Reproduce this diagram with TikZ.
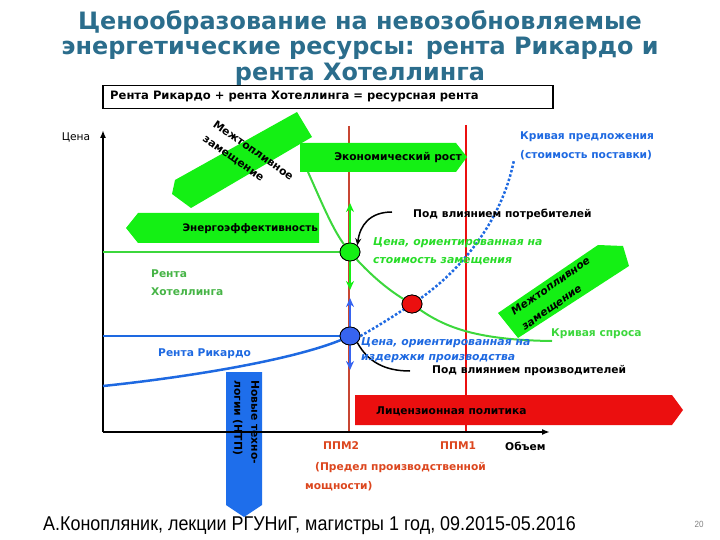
\documentclass[tikz,border=0pt]{standalone}
\usepackage{fontspec}
\setmainfont{DejaVu Sans}
\newfontfamily\narrowfont[FakeStretch=0.9]{Liberation Sans}
\usetikzlibrary{arrows.meta,calc,shapes.geometric}
\definecolor{titleblue}{RGB}{43,109,140}
\definecolor{lime}{RGB}{20,240,20}
\definecolor{curvegreen}{RGB}{60,215,60}
\definecolor{textgreen}{RGB}{70,180,70}
\definecolor{brightgreen}{RGB}{40,220,40}
\definecolor{myblue}{RGB}{30,105,225}
\definecolor{boxblue}{RGB}{30,110,235}
\definecolor{circblue}{RGB}{55,100,240}
\definecolor{myred}{RGB}{235,15,15}
\definecolor{brownred}{RGB}{200,70,50}
\definecolor{labelred}{RGB}{220,70,30}
\begin{document}
\begin{tikzpicture}[x=1bp,y=-1bp,
  lab/.style={inner sep=0,anchor=west,font=\bfseries\fontsize{10.7}{12}\selectfont},
  itl/.style={inner sep=0,anchor=west,font=\bfseries\itshape\fontsize{10.9}{12}\selectfont},
  boxtext/.style={inner sep=0,font=\bfseries\fontsize{10.7}{12}\selectfont},
  garrow/.style={draw=lime,line width=2.5bp,-{Stealth[length=9bp,width=8bp]}},
  barrow/.style={draw=circblue,line width=2.5bp,-{Stealth[length=9bp,width=8bp]}},
  dot/.style={ellipse,draw=black,line width=0.8bp,minimum width=20bp,minimum height=18bp,inner sep=0}]
\useasboundingbox (0,0) rectangle (720,540);
% title
\node[font=\bfseries\fontsize{24}{26}\selectfont,text=titleblue,align=center] (title) at (360,48)
  {Ценообразование на невозобновляемые\\энергетические ресурсы: рента Рикардо и\\рента Хотеллинга};
% formula box
\node[draw=black,line width=1.5bp,minimum width=450bp,minimum height=23bp,anchor=north west,inner sep=0] (formula) at (102,85) {};
\node[lab,font=\bfseries\fontsize{11.6}{13}\selectfont] (formulatext) at (110,97) {Рента Рикардо + рента Хотеллинга = ресурсная рента};

% green shape upper-left (interfuel substitution)
\fill[lime] (297,112) -- (312,137) -- (191,208) -- (172,194) -- (175,180) -- cycle;
\node[boxtext,font=\bfseries\fontsize{10.9}{18}\selectfont,rotate=-35,align=left] (ifs1) at (248,158) {Межтопливное\\замещение};

% red license arrow
\fill[myred] (355,395) -- (672,395) -- (683,410) -- (672,425) -- (355,425) -- cycle;
\node[lab] (lic) at (376,411) {Лицензионная политика};

% vertical lines
\coordinate (p2top) at (349,126);
\coordinate (p2bot) at (349,432);
\coordinate (p1top) at (466,125);
\coordinate (p1bot) at (466,432);
\draw[brownred,line width=2.5bp] (p2top) -- (p2bot);
\draw[myred,line width=2.5bp] (p1top) -- (p1bot);

% economic growth arrow box
\fill[lime] (300,143) -- (456,143) -- (467,157) -- (456,172) -- (300,172) -- cycle;
\node[boxtext] (growth) at (398,158) {Экономический рост};

% energy efficiency arrow box
\fill[lime] (138,213) -- (319,213) -- (319,243) -- (138,243) -- (126,228) -- cycle;
\node[boxtext,font=\bfseries\fontsize{10.4}{12}\selectfont,anchor=east] (eff) at (318,229) {Энергоэффективность};

% right green shape
\fill[lime] (598,245) -- (623,246) -- (629,266) -- (518,338) -- (498,313) -- cycle;
\node[boxtext,font=\bfseries\itshape\fontsize{10.7}{18}\selectfont,rotate=35,align=left] (ifs2) at (556,294) {Межтопливное\\замещение};

% blue NTP arrow
\fill[boxblue] (226,372) -- (262,372) -- (262,505) -- (244,517) -- (226,505) -- cycle;
\node[boxtext,font=\bfseries\fontsize{10.8}{17}\selectfont,rotate=-90,align=left,anchor=west] (ntp) at (246,380) {Новые техно-\\логии (НТП)};

% axes
\coordinate (orig) at (103,432);
\coordinate (ytop) at (103,130);
\coordinate (xend) at (550,432);
\draw[line width=2.5bp,-{Latex[length=8bp,width=6bp]}] (orig) -- (ytop);
\draw[line width=2.5bp,-{Latex[length=8bp,width=6bp]}] (orig) -- (xend);
\node[font=\fontsize{10.7}{12}\selectfont,inner sep=0] (price) at (76,137) {Цена};
\node[lab] (vol) at (505,446) {Объем};

% nodes (points)
\node[dot,fill=lime] (gdot) at (350,252) {};
\node[dot,fill=circblue] (bdot) at (350,336) {};
\node[dot,fill=myred] (rdot) at (412,304) {};

% horizontal levels
\coordinate (gl) at (103,252);
\coordinate (bl) at (103,336);
\draw[curvegreen,line width=2.5bp] (gl) -- (gdot.west);
\draw[myblue,line width=2bp] (bl) -- (bdot.west);

% demand curve
\coordinate (dstart) at (308,172);
\coordinate (dend) at (552,341);
\draw[curvegreen,line width=2bp] (dstart) .. controls (325,210) and (335,235) .. (gdot.center)
   .. controls (370,275) and (390,292) .. (rdot.center)
   .. controls (440,325) and (470,340) .. (dend);

% supply curve
\coordinate (sstart) at (103,386);
\coordinate (send) at (514,160);
\draw[myblue,line width=2.5bp] (sstart) .. controls (180,378) and (300,360) .. (bdot.center);
\draw[myblue,line width=2.5bp,dotted] (bdot.east) .. controls (380,325) and (400,312) .. (rdot.center)
   .. controls (450,280) and (500,230) .. (send);

% vertical arrows
\coordinate (gup) at (350,203);
\coordinate (gdown) at (350,290);
\coordinate (bup) at (350,298);
\coordinate (bdown) at (350,370);
\draw[garrow] (gdot.north) -- (gup);
\draw[garrow] (gdot.south) -- (gdown);
\draw[barrow] (bdot.north) -- (bup);
\draw[barrow] (bdot.south) -- (bdown);
% redraw dots on top
\node[dot,fill=lime] at (350,252) {};
\node[dot,fill=circblue] at (350,336) {};
\node[dot,fill=myred] at (412,304) {};

% influence labels and curves
\node[lab] (cons) at (413,214) {Под влиянием потребителей};
\coordinate (consend) at (392,212);
\draw[line width=1.5bp,-{Stealth[length=7bp,width=6bp]}] (consend) .. controls (370,212) and (360,225) .. (gdot.north east);
\node[lab] (prod) at (432,371) {Под влиянием производителей};
\coordinate (prodend) at (410,371);
\draw[line width=1.5bp] (bdot.south east) .. controls (368,362) and (385,371) .. (prodend);

% price labels
\node[itl,text=brightgreen] (gp1) at (373,243) {Цена, ориентированная на};
\node[itl,text=brightgreen] (gp2) at (373,261) {стоимость замещения};
\node[itl,text=myblue] (bp1) at (361,343) {Цена, ориентированная на};
\node[itl,text=myblue] (bp2) at (361,359) {издержки производства};

% rent labels
\node[lab,text=textgreen] (hot1) at (151,274) {Рента};
\node[lab,text=textgreen] (hot2) at (151,292) {Хотеллинга};
\node[lab,text=myblue] (ric) at (158,354) {Рента Рикардо};

% curve labels
\node[lab,text=myblue] (sup1) at (520,137) {Кривая предложения};
\node[lab,text=myblue] (sup2) at (520,155) {(стоимость поставки)};
\node[lab,text=curvegreen] (dem) at (551,334) {Кривая спроса};

% capacity labels
\node[lab,text=labelred] (ppm2) at (323,446) {ППМ2};
\node[lab,text=labelred] (ppm1) at (440,446) {ППМ1};
\node[lab,text=labelred] (lim1) at (315,468) {(Предел производственной};
\node[lab,text=labelred] (lim2) at (305,486) {мощности)};

% footer
\node[font=\narrowfont\fontsize{20}{22}\selectfont,inner sep=0,anchor=west] (foot) at (43,526) {А.Конопляник, лекции РГУНиГ, магистры 1 год, 09.2015-05.2016};
\node[font=\narrowfont\fontsize{9}{10}\selectfont,text=gray,inner sep=0] (pg) at (699,524) {20};
\end{tikzpicture}
\end{document}
